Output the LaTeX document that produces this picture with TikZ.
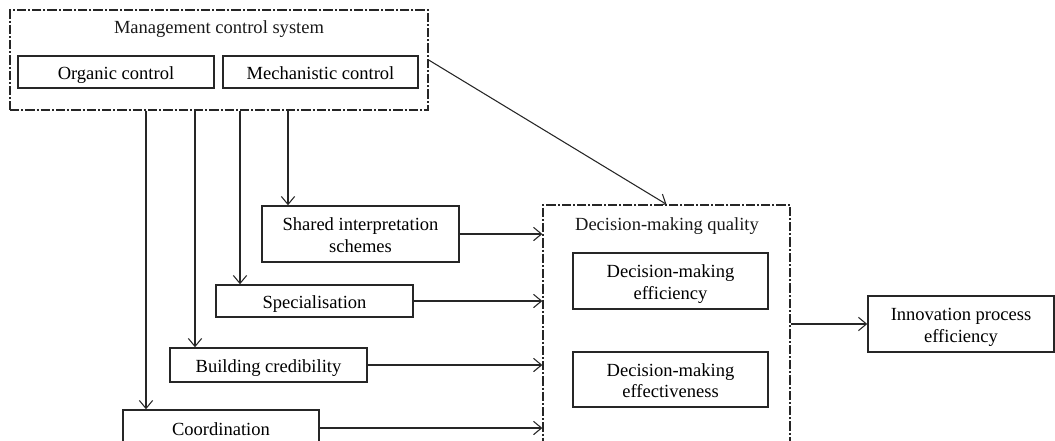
\documentclass[tikz,border=0pt]{standalone}
\usepackage{fontspec}
\setmainfont{Liberation Serif}
\usetikzlibrary{arrows.meta}
\newcommand\tx[1]{\raisebox{-2.4pt}[\height][\depth]{\begin{tabular}{@{}c@{}}#1\end{tabular}}}
\begin{document}
\begin{tikzpicture}[x=0.75pt,y=-0.75pt,
  font=\fontsize{13.9}{16.3}\selectfont,
  box/.style={draw=black!85,line width=1.1pt,inner sep=0pt},
  group/.style={draw=black!85,line width=1pt,inner sep=0pt,
    dash pattern=on 7pt off 1.5pt on 1.5pt off 1.5pt},
  arr/.style={draw=black!85,line width=0.8pt,-{Straight Barb[length=6pt,width=10pt]}},
  lbl/.style={inner sep=0pt,text=black!90}]
\clip (0,0) rectangle (1055,440);
% management control system
\node[group,minimum width=418*0.75pt,minimum height=100*0.75pt] (mcs) at (219,60) {};
\node[lbl] (mcst) at (219,26) {\tx{Management control system}};
\node[box,minimum width=196*0.75pt,minimum height=32*0.75pt] (org) at (116,72) {\tx{Organic control}};
\node[box,minimum width=195*0.75pt,minimum height=32*0.75pt] (mech) at (320.5,72) {\tx{Mechanistic control}};
% mediators
\node[box,minimum width=197*0.75pt,minimum height=56*0.75pt] (shared) at (360.5,234) {\tx{Shared interpretation\\schemes}};
\node[box,minimum width=197*0.75pt,minimum height=32*0.75pt] (spec) at (314.5,301) {\tx{Specialisation}};
\node[box,minimum width=197*0.75pt,minimum height=34*0.75pt] (build) at (268.5,365) {\tx{Building credibility}};
\node[box,minimum width=196*0.75pt,minimum height=36*0.75pt] (coord) at (221,428) {\tx{Coordination}};
% decision-making quality
\node[group,minimum width=247*0.75pt,minimum height=270*0.75pt] (dmq) at (666.5,340) {};
\node[lbl] (dmqt) at (667,223) {\tx{Decision-making quality}};
\node[box,minimum width=195*0.75pt,minimum height=56*0.75pt] (eff) at (670.5,281) {\tx{Decision-making\\efficiency}};
\node[box,minimum width=195*0.75pt,minimum height=55*0.75pt] (efv) at (670.5,379.5) {\tx{Decision-making\\effectiveness}};
% outcome
\node[box,minimum width=186*0.75pt,minimum height=56*0.75pt] (inn) at (961,324) {\tx{Innovation process\\efficiency}};
% x positions of the drops
\coordinate (d1) at (146,0);
\coordinate (d2) at (195,0);
\coordinate (d3) at (240,0);
\coordinate (d4) at (288,0);
\draw[arr] (mcs.south -| d1) -- (coord.north -| d1);
\draw[arr] (mcs.south -| d2) -- (build.north -| d2);
\draw[arr] (mcs.south -| d3) -- (spec.north -| d3);
\draw[arr] (mcs.south -| d4) -- (shared.north -| d4);
\draw[arr] (shared.east) -- (dmq.west |- shared.east);
\draw[arr] (spec.east) -- (dmq.west |- spec.east);
\draw[arr] (build.east) -- (dmq.west |- build.east);
\draw[arr] (coord.east) -- (dmq.west |- coord.east);
\draw[arr] (mcs.east) -- (dmq.north);
\draw[arr] (dmq.east |- inn.west) -- (inn.west);
\end{tikzpicture}
\end{document}
